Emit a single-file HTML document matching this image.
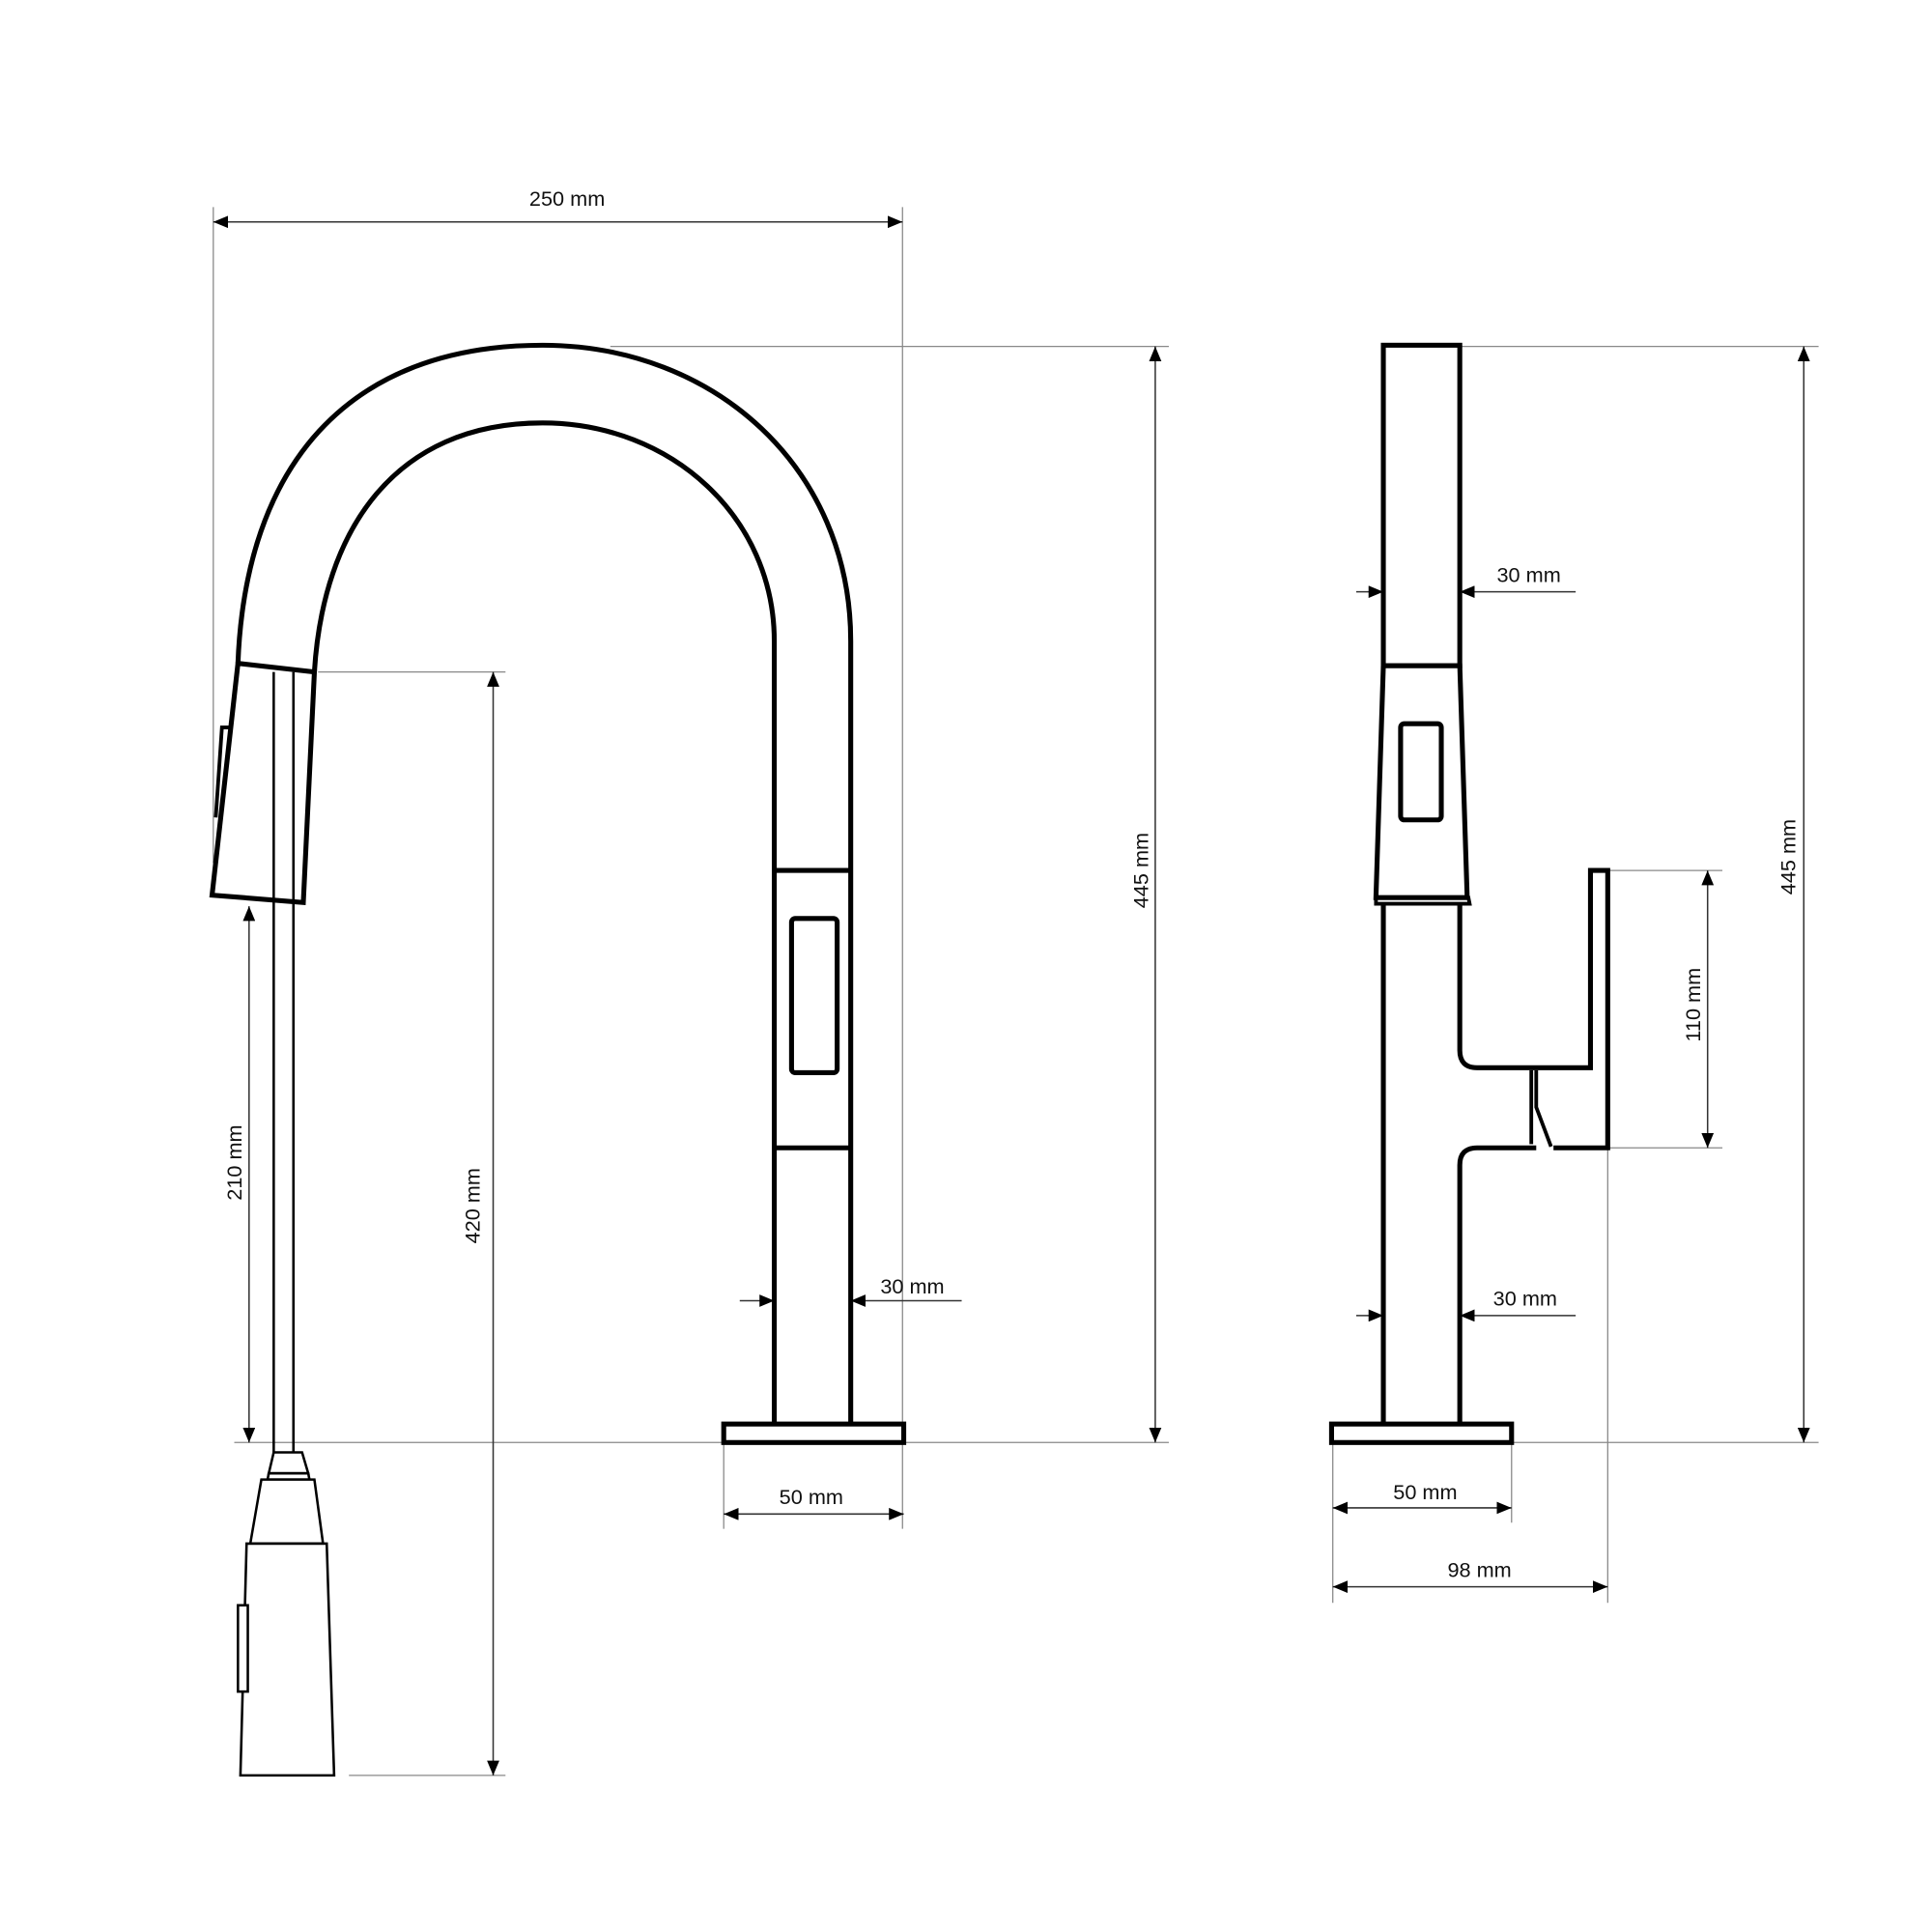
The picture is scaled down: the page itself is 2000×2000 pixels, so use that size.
<!DOCTYPE html>
<html><head><meta charset="utf-8"><style>html,body{margin:0;padding:0;background:#fff}svg{display:block}</style></head>
<body>
<svg width="2000" height="2000" viewBox="0 0 1567 1567" xmlns="http://www.w3.org/2000/svg">
<defs>
<marker id="a" viewBox="0 0 12 10" refX="12" refY="5" markerWidth="12" markerHeight="10" markerUnits="userSpaceOnUse" orient="auto-start-reverse"><path d="M0,0 L12,5 L0,10 z" fill="#000"/></marker>
</defs>
<rect width="1567" height="1567" fill="#fff"/>
<g stroke="#888" stroke-width="1" fill="none">
<line x1="173" y1="168" x2="173" y2="700"/>
<line x1="732" y1="168" x2="732" y2="1240"/>
<line x1="495" y1="281" x2="948" y2="281"/>
<line x1="190" y1="1170" x2="948" y2="1170"/>
<line x1="258" y1="545" x2="410" y2="545"/>
<line x1="283" y1="1440" x2="410" y2="1440"/>
<line x1="587" y1="1170" x2="587" y2="1240"/>
<line x1="1185" y1="281" x2="1475" y2="281"/>
<line x1="1225" y1="1170" x2="1475" y2="1170"/>
<line x1="1305" y1="706" x2="1397" y2="706"/>
<line x1="1305" y1="931" x2="1397" y2="931"/>
<line x1="1081" y1="1170" x2="1081" y2="1300"/>
<line x1="1226" y1="1170" x2="1226" y2="1235"/>
<line x1="1304" y1="931" x2="1304" y2="1300"/>
</g>
<g stroke="#333" stroke-width="1.2" fill="none">
<line x1="173" y1="180" x2="732" y2="180" marker-start="url(#a)" marker-end="url(#a)"/>
<line x1="937" y1="281" x2="937" y2="1170" marker-start="url(#a)" marker-end="url(#a)"/>
<line x1="400" y1="545" x2="400" y2="1440" marker-start="url(#a)" marker-end="url(#a)"/>
<line x1="202" y1="735" x2="202" y2="1170" marker-start="url(#a)" marker-end="url(#a)"/>
<line x1="600" y1="1055" x2="628" y2="1055" marker-end="url(#a)"/>
<line x1="780" y1="1055" x2="690" y2="1055" marker-end="url(#a)"/>
<line x1="587" y1="1228" x2="733" y2="1228" marker-start="url(#a)" marker-end="url(#a)"/>
<line x1="1100" y1="480" x2="1122" y2="480" marker-end="url(#a)"/>
<line x1="1278" y1="480" x2="1184" y2="480" marker-end="url(#a)"/>
<line x1="1100" y1="1067" x2="1122" y2="1067" marker-end="url(#a)"/>
<line x1="1278" y1="1067" x2="1184" y2="1067" marker-end="url(#a)"/>
<line x1="1385" y1="706" x2="1385" y2="931" marker-start="url(#a)" marker-end="url(#a)"/>
<line x1="1463" y1="281" x2="1463" y2="1170" marker-start="url(#a)" marker-end="url(#a)"/>
<line x1="1081" y1="1223" x2="1226" y2="1223" marker-start="url(#a)" marker-end="url(#a)"/>
<line x1="1081" y1="1287" x2="1304" y2="1287" marker-start="url(#a)" marker-end="url(#a)"/>
</g>
<g stroke="#000" stroke-width="4" fill="none" stroke-linejoin="miter">
<path d="M193,538 C199,380 280,280 440,280 C580,280 690,380 690,520 L690,1155"/>
<path d="M255,545 C262,430 320,343 440,343 C545,343 628,420 628,520 L628,1155"/>
<polygon points="193,538 255,545 246,732 172,726" fill="#fff"/>
<polyline points="186,590 180,590 175,663" stroke-width="3"/>
<line x1="628" y1="706" x2="690" y2="706"/>
<line x1="628" y1="931" x2="690" y2="931"/>
<rect x="642" y="745" width="37" height="125" rx="3"/>
<rect x="587" y="1155" width="146" height="15"/>
</g>
<g stroke="#000" stroke-width="2" fill="#fff">
<line x1="222" y1="545" x2="222" y2="1178"/>
<line x1="238" y1="545" x2="238" y2="1178"/>
<polygon points="222,1178 245,1178 250,1195 218,1195"/>
<polygon points="218,1195 250,1195 251,1200 217,1200"/>
<polygon points="212,1200 255,1200 262,1252 203,1252"/>
<polygon points="200,1252 265,1252 271,1440 195,1440"/>
<rect x="193" y="1302" width="8" height="70"/>
</g>
<g stroke="#000" stroke-width="4" fill="none">
<rect x="1122" y="280" width="62" height="260"/>
<polygon points="1122,540 1184,540 1190,728 1116,728" fill="#fff"/>
<polygon points="1116,728 1191,728 1192,733 1116,733" stroke-width="3"/>
<rect x="1136" y="587" width="33" height="78" rx="3"/>
<line x1="1122" y1="733" x2="1122" y2="1155"/>
<path d="M1184,733 L1184,852 Q1184,866 1198,866 L1290,866 L1290,706 L1304,706 L1304,931 L1260,931"/>
<path d="M1246,931 L1198,931 Q1184,931 1184,945 L1184,1155"/>
<path d="M1242,868 L1242,928 M1246,868 L1246,898 L1258,930" stroke-width="3"/>
<rect x="1080" y="1155" width="146" height="15"/>
</g>
<g font-family="Liberation Sans, sans-serif" font-size="17" fill="#111">
<text x="460" y="167" text-anchor="middle">250 mm</text>
<text x="740" y="1049" text-anchor="middle">30 mm</text>
<text x="658" y="1220" text-anchor="middle">50 mm</text>
<text transform="translate(931,706) rotate(-90)" text-anchor="middle">445 mm</text>
<text transform="translate(389,978) rotate(-90)" text-anchor="middle">420 mm</text>
<text transform="translate(196,943) rotate(-90)" text-anchor="middle">210 mm</text>
<text x="1240" y="472" text-anchor="middle">30 mm</text>
<text x="1237" y="1059" text-anchor="middle">30 mm</text>
<text x="1156" y="1216" text-anchor="middle">50 mm</text>
<text x="1200" y="1279" text-anchor="middle">98 mm</text>
<text transform="translate(1379,815) rotate(-90)" text-anchor="middle">110 mm</text>
<text transform="translate(1456,695) rotate(-90)" text-anchor="middle">445 mm</text>
</g>
</svg>
</body></html>
